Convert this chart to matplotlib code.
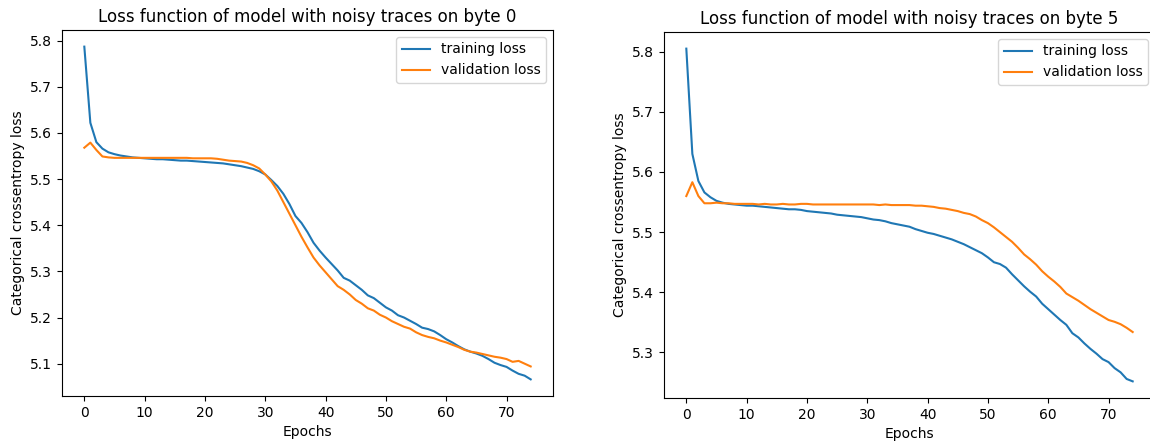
import matplotlib
matplotlib.use("Agg")
import matplotlib.pyplot as plt

epochs = list(range(75))

# byte 0
train_b0 = [5.787, 5.622, 5.580, 5.566, 5.558, 5.554, 5.551, 5.549, 5.547, 5.546,
            5.545, 5.544, 5.543, 5.543, 5.542, 5.541, 5.540, 5.540, 5.539, 5.538,
            5.537, 5.536, 5.535, 5.534, 5.532, 5.530, 5.528, 5.525, 5.522, 5.517,
            5.510, 5.498, 5.485, 5.468, 5.446, 5.420, 5.405, 5.385, 5.362, 5.345,
            5.330, 5.316, 5.302, 5.286, 5.280, 5.270, 5.260, 5.248, 5.242, 5.232,
            5.222, 5.215, 5.205, 5.200, 5.193, 5.186, 5.178, 5.175, 5.170, 5.162,
            5.153, 5.146, 5.138, 5.131, 5.126, 5.122, 5.117, 5.110, 5.102, 5.097,
            5.093, 5.085, 5.078, 5.074, 5.066]
val_b0 = [5.568, 5.579, 5.563, 5.549, 5.547, 5.546, 5.546, 5.546, 5.546, 5.546,
          5.546, 5.546, 5.546, 5.546, 5.546, 5.546, 5.546, 5.546, 5.545, 5.545,
          5.545, 5.545, 5.544, 5.542, 5.540, 5.539, 5.538, 5.535, 5.530, 5.523,
          5.510, 5.495, 5.475, 5.450, 5.425, 5.400, 5.375, 5.352, 5.330, 5.313,
          5.298, 5.283, 5.268, 5.260, 5.250, 5.238, 5.230, 5.220, 5.215, 5.206,
          5.200, 5.192, 5.186, 5.180, 5.176, 5.168, 5.162, 5.158, 5.155, 5.150,
          5.146, 5.141, 5.136, 5.130, 5.126, 5.124, 5.121, 5.118, 5.115, 5.113,
          5.110, 5.104, 5.106, 5.100, 5.094]

# byte 5
train_b5 = [5.805, 5.630, 5.585, 5.566, 5.558, 5.552, 5.549, 5.547, 5.546, 5.545,
            5.544, 5.544, 5.543, 5.542, 5.541, 5.540, 5.539, 5.538, 5.538, 5.537,
            5.535, 5.534, 5.533, 5.532, 5.531, 5.529, 5.528, 5.527, 5.526, 5.525,
            5.523, 5.521, 5.520, 5.518, 5.515, 5.513, 5.511, 5.509, 5.505, 5.502,
            5.499, 5.497, 5.494, 5.491, 5.488, 5.484, 5.480, 5.475, 5.470, 5.465,
            5.458, 5.450, 5.447, 5.441, 5.430, 5.420, 5.410, 5.401, 5.393, 5.381,
            5.372, 5.363, 5.354, 5.346, 5.332, 5.325, 5.315, 5.306, 5.298, 5.289,
            5.284, 5.274, 5.267, 5.256, 5.252]
val_b5 = [5.560, 5.583, 5.560, 5.548, 5.548, 5.549, 5.548, 5.548, 5.547, 5.547,
          5.547, 5.547, 5.546, 5.547, 5.546, 5.546, 5.547, 5.546, 5.546, 5.547,
          5.547, 5.546, 5.546, 5.546, 5.546, 5.546, 5.546, 5.546, 5.546, 5.546,
          5.546, 5.546, 5.545, 5.546, 5.545, 5.545, 5.545, 5.545, 5.544, 5.544,
          5.543, 5.542, 5.540, 5.539, 5.537, 5.535, 5.532, 5.530, 5.526, 5.520,
          5.515, 5.508, 5.500, 5.492, 5.484, 5.474, 5.463, 5.455, 5.446, 5.435,
          5.426, 5.418, 5.409, 5.398, 5.392, 5.386, 5.379, 5.372, 5.366, 5.360,
          5.354, 5.351, 5.347, 5.341, 5.334]

titles = ["Loss function of model with noisy traces on byte 0",
          "Loss function of model with noisy traces on byte 5"]
series = [(train_b0, val_b0), (train_b5, val_b5)]

W, H = 1150, 444
fig = plt.figure(figsize=(W / 100, H / 100), dpi=100)
# axes boxes in pixels: left, top, right, bottom
rects = [(62, 30, 553, 396), (664, 32, 1155, 398)]

for (x0, y0, x1, y1), title, (tr, va) in zip(rects, titles, series):
    ax = fig.add_axes([x0 / W, (H - y1) / H, (x1 - x0) / W, (y1 - y0) / H])
    ax.plot(epochs, tr, color="#1f77b4", label="training loss", linewidth=1.5)
    ax.plot(epochs, va, color="#ff7f0e", label="validation loss", linewidth=1.5)
    ax.set_title(title, fontsize=12)
    ax.set_xlabel("Epochs", fontsize=10)
    ax.set_ylabel("Categorical crossentropy loss", fontsize=10)
    ax.tick_params(labelsize=10)
    ax.legend(loc="upper right", fontsize=10)

fig.savefig("out.png", dpi=100)
